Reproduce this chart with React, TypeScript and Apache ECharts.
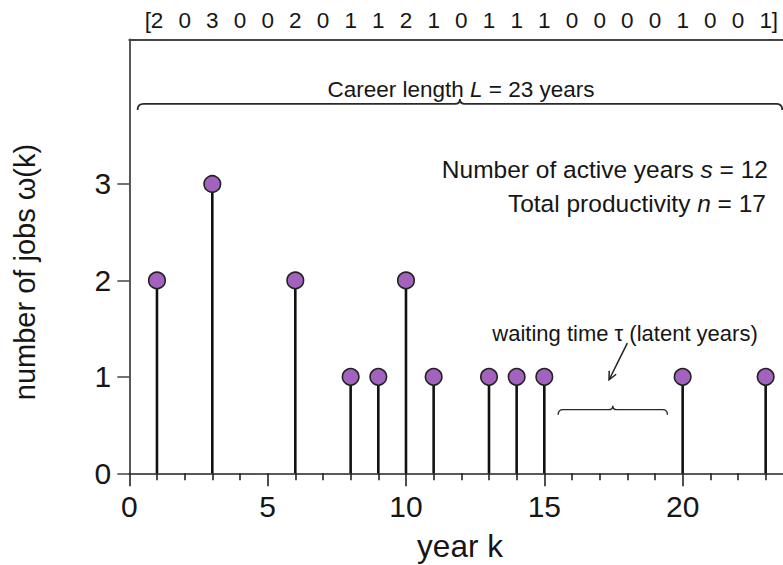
import React, { useEffect, useRef } from "react";
import * as echarts from "echarts";

// ---- data ----
const years = [1, 3, 6, 8, 9, 10, 11, 13, 14, 15, 20, 23];
const jobs = [2, 3, 2, 1, 1, 2, 1, 1, 1, 1, 1, 1];
const jobVector = [2, 0, 3, 0, 0, 2, 0, 1, 1, 2, 1, 0, 1, 1, 1, 0, 0, 0, 0, 1, 0, 0, 1];
const vectorBrackets = ["[", "]"];
const yTickValues = [0, 1, 2, 3];
const xMin = 0;
const xMax = 25;
const yMin = 0;
const yMax = 4.5;
// brace annotations: [from year, to year, at value]
const braces = [
  [0.3, 23.6, 3.83],
  [15.5, 19.45, 0.66],
];
// arrow annotation: [x0, y0, x1, y1]
const arrows = [[18.0, 1.35, 17.34, 0.97]];

const FONT = '"Liberation Sans", Arial, Helvetica, sans-serif';
const INK = "#161616";
const braceStyle = [
  { curl: 6, cusp: 5, width: 1.8 },
  { curl: 5, cusp: 4, width: 1.4 },
];

export default function App() {
  const ref = useRef<HTMLDivElement>(null);
  useEffect(() => {
    const chart = echarts.init(ref.current as HTMLDivElement, null, { renderer: "svg" });
    const points = years.map((y, i) => [y, jobs[i]]);
    chart.setOption({
      animation: false,
      backgroundColor: "#fff",
      grid: { left: 129.3, top: 39.3, right: 19, bottom: 91.7 },
      xAxis: [
        {
          type: "value",
          position: "bottom",
          min: xMin,
          max: xMax,
          interval: 5,
          axisLine: { show: true, onZero: false, lineStyle: { color: "#222", width: 1.5 } },
          axisTick: { show: true, length: 13, lineStyle: { color: "#222", width: 1.6 } },
          minorTick: { show: true, splitNumber: 5, length: 7, lineStyle: { color: "#222", width: 1.6 } },
          splitLine: { show: false },
          minorSplitLine: { show: false },
          axisLabel: {
            fontSize: 30,
            fontFamily: FONT,
            color: INK,
            margin: 18,
            showMaxLabel: false,
          },
        },
        {
          type: "value",
          position: "top",
          min: xMin,
          max: xMax,
          interval: 1,
          axisLine: { show: true, onZero: false, lineStyle: { color: "#444", width: 2 } },
          axisTick: { show: false },
          splitLine: { show: false },
          axisLabel: {
            fontSize: 22.5,
            fontFamily: FONT,
            color: INK,
            margin: 7,
            formatter: (v: number) =>
              v >= 1 && v <= jobVector.length ? String(jobVector[v - 1]) : "",
          },
        },
      ],
      yAxis: {
        type: "value",
        min: yMin,
        max: yMax,
        interval: 1,
        axisLine: { show: true, onZero: false, lineStyle: { color: "#222", width: 1.5 } },
        axisTick: {
          show: true,
          length: 12,
          customValues: yTickValues,
          lineStyle: { color: "#444", width: 1.5 },
        },
        splitLine: { show: false },
        axisLabel: {
          fontSize: 30,
          fontFamily: FONT,
          color: INK,
          margin: 18,
          customValues: yTickValues,
        },
      },
      series: [
        {
          type: "bar",
          xAxisIndex: 0,
          data: points,
          barWidth: 2.6,
          itemStyle: { color: "#111" },
          z: 2,
        },
        {
          type: "scatter",
          xAxisIndex: 0,
          data: points,
          symbol: "circle",
          symbolSize: 16.5,
          itemStyle: { color: "#a462bf", borderColor: "#222", borderWidth: 1.6, opacity: 1 },
          z: 3,
        },
        {
          type: "custom",
          xAxisIndex: 0,
          data: braces,
          encode: { x: [0, 1], y: 2 },
          clip: false,
          renderItem: (params: any, api: any) => {
            const st = braceStyle[params.dataIndex];
            const a = api.coord([api.value(0), api.value(2)]);
            const b = api.coord([api.value(1), api.value(2)]);
            const y = a[1];
            const m = (a[0] + b[0]) / 2;
            const c = st.curl;
            const h = st.cusp;
            const d =
              `M${a[0]},${y + c} Q${a[0]},${y} ${a[0] + c},${y} ` +
              `L${m - h},${y} Q${m},${y} ${m},${y - h} Q${m},${y} ${m + h},${y} ` +
              `L${b[0] - c},${y} Q${b[0]},${y} ${b[0]},${y + c}`;
            return {
              type: "path",
              shape: { pathData: d },
              style: { fill: "none", stroke: "#2a2a2a", lineWidth: st.width },
            };
          },
        },
        {
          type: "custom",
          xAxisIndex: 0,
          data: arrows,
          encode: { x: [0, 2], y: [1, 3] },
          clip: false,
          renderItem: (params: any, api: any) => {
            const p0 = api.coord([api.value(0), api.value(1)]);
            const p1 = api.coord([api.value(2), api.value(3)]);
            const ang = Math.atan2(p0[1] - p1[1], p0[0] - p1[0]);
            const L = 9;
            const spread = 0.45;
            const h1 = [p1[0] + L * Math.cos(ang + spread), p1[1] + L * Math.sin(ang + spread)];
            const h2 = [p1[0] + L * Math.cos(ang - spread), p1[1] + L * Math.sin(ang - spread)];
            return {
              type: "group",
              children: [
                {
                  type: "polyline",
                  shape: { points: [p0, p1] },
                  style: { fill: "none", stroke: "#222", lineWidth: 1.5 },
                },
                {
                  type: "polyline",
                  shape: { points: [h1, p1, h2] },
                  style: { fill: "none", stroke: "#222", lineWidth: 1.5 },
                },
              ],
            };
          },
        },
        {
          type: "custom",
          xAxisIndex: 0,
          data: [1, jobVector.length].map((x) => [x, yMax]),
          encode: { x: 0, y: 1 },
          clip: false,
          renderItem: (params: any, api: any) => {
            const p = api.coord([api.value(0), api.value(1)]);
            const left = params.dataIndex === 0;
            return {
              type: "text",
              x: p[0] + (left ? -6 : 6),
              y: p[1] - 7,
              style: {
                text: vectorBrackets[params.dataIndex],
                fontSize: 22.5,
                fontFamily: FONT,
                fill: INK,
                align: left ? "right" : "left",
                verticalAlign: "bottom",
              },
            };
          },
        },
      ],
      graphic: [
        {
          type: "text",
          x: 460,
          y: 546,
          style: {
            text: "year k",
            fontSize: 31.5,
            fontFamily: FONT,
            fill: INK,
            align: "center",
            verticalAlign: "middle",
          },
        },
        {
          type: "text",
          x: 25,
          y: 272,
          rotation: Math.PI / 2,
          style: {
            text: "number of jobs ω(k)",
            fontSize: 29,
            fontFamily: FONT,
            fill: INK,
            align: "center",
            verticalAlign: "middle",
          },
        },
        {
          type: "text",
          x: 461,
          y: 89,
          style: {
            text: "Career length {i|L} = 23 years",
            fontSize: 22.5,
            fontFamily: FONT,
            fill: INK,
            align: "center",
            verticalAlign: "middle",
            rich: { i: { fontStyle: "italic", fontSize: 22.5, fontFamily: FONT, fill: INK } },
          },
        },
        {
          type: "text",
          x: 768,
          y: 169,
          style: {
            text: "Number of active years {i|s} = 12",
            fontSize: 24.5,
            fontFamily: FONT,
            fill: INK,
            align: "right",
            verticalAlign: "middle",
            rich: { i: { fontStyle: "italic", fontSize: 24.5, fontFamily: FONT, fill: INK } },
          },
        },
        {
          type: "text",
          x: 766,
          y: 203,
          style: {
            text: "Total productivity {i|n} = 17",
            fontSize: 24.5,
            fontFamily: FONT,
            fill: INK,
            align: "right",
            verticalAlign: "middle",
            rich: { i: { fontStyle: "italic", fontSize: 24.5, fontFamily: FONT, fill: INK } },
          },
        },
        {
          type: "text",
          x: 625,
          y: 333,
          style: {
            text: "waiting time τ (latent years)",
            fontSize: 22,
            fontFamily: FONT,
            fill: INK,
            align: "center",
            verticalAlign: "middle",
          },
        },
      ],
    });
    return () => chart.dispose();
  }, []);

  return (
    <div
      style={{
        position: "fixed",
        left: 0,
        top: 0,
        width: 783,
        height: 565,
        overflow: "hidden",
        background: "#fff",
      }}
    >
      <div ref={ref} style={{ width: 840, height: 565 }} />
    </div>
  );
}
